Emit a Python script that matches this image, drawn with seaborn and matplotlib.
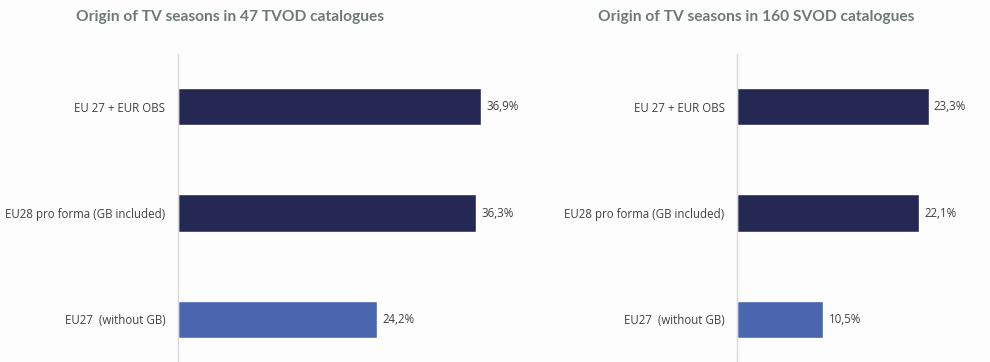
import matplotlib
matplotlib.use("Agg")
import matplotlib.pyplot as plt
import seaborn as sns
import pandas as pd

categories = ["EU 27 + EUR OBS", "EU28 pro forma (GB included)", "EU27  (without GB)"]
tvod_values = [36.9, 36.3, 24.2]
svod_values = [23.3, 22.1, 10.5]
titles = ["Origin of TV seasons in 47 TVOD catalogues", "Origin of TV seasons in 160 SVOD catalogues"]
bar_colors = ["#252853", "#252853", "#4a66ae"]

sns.set_theme(style="white")
plt.rcParams['font.family'] = ['Open Sans', 'DejaVu Sans']

W, H = 990, 362
fig = plt.figure(figsize=(W / 100, H / 100), dpi=100)
fig.patch.set_facecolor("#fdfdfd")

def add_axes(px_left, px_right, px_top, px_bottom):
    return fig.add_axes([px_left / W, 1 - px_bottom / H, (px_right - px_left) / W, (px_bottom - px_top) / H])

scale = 8.22  # px per percent
specs = [
    (178, 500, tvod_values, titles[0], 230),
    (737, 985, svod_values, titles[1], 756),
]
for left, right, vals, title, tcx in specs:
    ax = add_axes(left, right, 53.5, 362)
    ax.set_facecolor("#fdfdfd")
    df = pd.DataFrame({"cat": categories, "val": vals})
    sns.barplot(data=df, x="val", y="cat", hue="cat", palette=bar_colors,
                legend=False, width=0.35, ax=ax, saturation=1)
    ax.set_xlim(0, (right - left) / scale)
    ax.set_ylim(2.4, -0.5)
    for s in ["top", "right", "bottom"]:
        ax.spines[s].set_visible(False)
    ax.spines["left"].set_color("#d9d9d9")
    ax.spines["left"].set_linewidth(1.0)
    ax.set_xticks([])
    ax.set_xlabel("")
    ax.set_ylabel("")
    ax.tick_params(axis="y", length=0, pad=9, labelsize=8.3, labelcolor="#404040")
    for i, v in enumerate(vals):
        ax.text(v + 0.65, i, f"{v:.1f}%".replace(".", ","), va="center", ha="left",
                fontsize=8.3, color="#404040")
    fig.text(tcx / W, 1 - 17 / H, title, ha="center", va="center", fontsize=11.2,
             fontweight="bold", color="#6b7a74", family=["Lato", "DejaVu Sans"])

fig.savefig("out.png", dpi=100, facecolor=fig.get_facecolor())
